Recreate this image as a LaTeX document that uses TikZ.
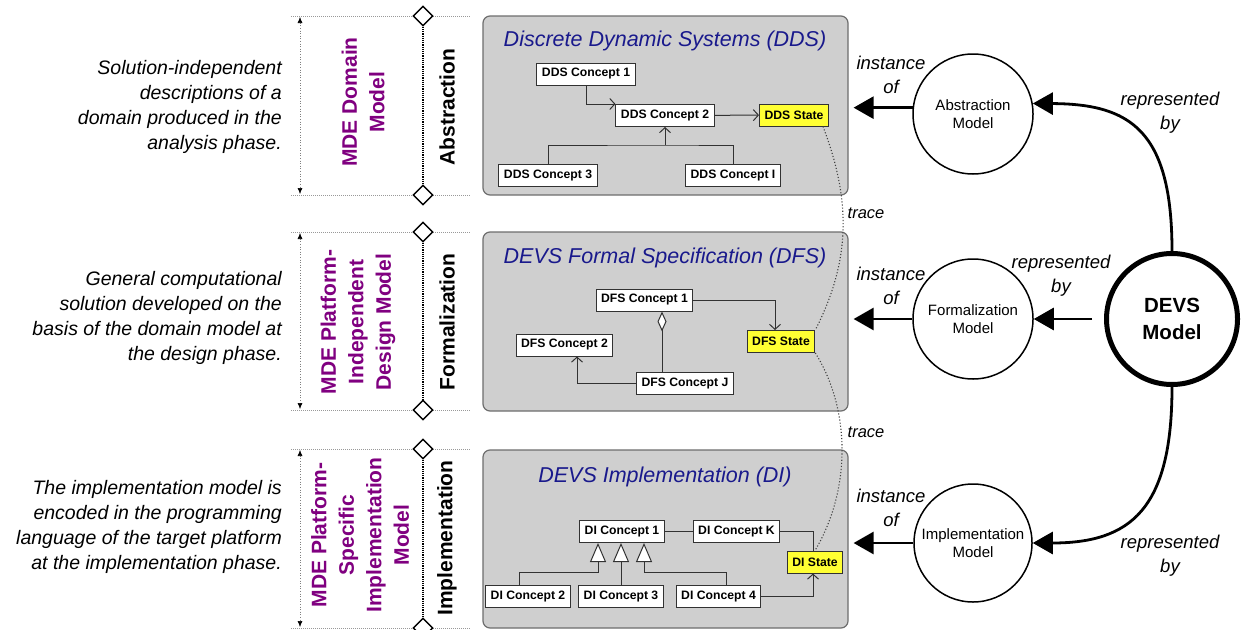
\documentclass[tikz,border=0pt]{standalone}
\usepackage{fontspec}
\setmainfont{Liberation Sans}
\usetikzlibrary{arrows.meta,shapes.geometric,calc}
\definecolor{panelgray}{RGB}{207,207,207}
\definecolor{panelborder}{RGB}{110,110,110}
\definecolor{stateyellow}{RGB}{255,255,51}
\definecolor{mdepurple}{RGB}{128,0,128}
\definecolor{titleblue}{RGB}{25,25,140}
\definecolor{connc}{RGB}{50,50,50}
\newcommand\myfs[2]{\fontsize{#1}{#2}\selectfont}
\begin{document}
\begin{tikzpicture}[x=1pt,y=-1pt,
  panel/.style={draw=panelborder, fill=panelgray, rounded corners=7pt, line width=1.2pt, minimum width=365pt, inner sep=0pt},
  concept/.style={draw=connc, fill=white, line width=1pt, font=\bfseries\myfs{12.2}{14}, inner xsep=5pt, inner ysep=0pt, minimum height=22pt},
  statebox/.style={concept, fill=stateyellow},
  conn/.style={draw=connc, line width=1pt},
  barb/.style={-{Straight Barb[length=5pt,width=11pt]}},
  inh/.style={-{Triangle[fill=white,length=19pt,width=16pt]}},
  agg/.style={-{Diamond[fill=white,length=20pt,width=9pt]}},
  paneltitle/.style={font=\itshape\myfs{21.5}{25}, text=titleblue},
  lefttext/.style={anchor=east, align=right, font=\itshape\myfs{19.5}{25}, inner sep=0pt},
  mdelabel/.style={rotate=90, align=center, font=\bfseries\myfs{21}{27.5}, text=mdepurple},
  phaselabel/.style={rotate=90, font=\bfseries\myfs{21}{25}},
  guide/.style={draw=gray!80, densely dotted, line width=1pt},
  levelline/.style={draw=black, densely dotted, line width=1.2pt},
  dimline/.style={draw=gray, dotted, line width=0.6pt, {Latex[length=6pt,width=5pt,color=black]}-{Latex[length=6pt,width=5pt,color=black]}},
  marker/.style={diamond, draw=black, fill=white, line width=1.4pt, minimum width=20pt, minimum height=20pt, inner sep=0pt},
  modelcircle/.style={circle, draw=black, line width=1.5pt, minimum size=120pt, inner sep=0pt, align=center, font=\myfs{15}{18.5}},
  bigarr/.style={line width=2.8pt, -{Triangle[length=20pt,width=22pt]}},
  relabel/.style={font=\itshape\myfs{18.5}{24}, align=center},
  tracelabel/.style={font=\itshape\myfs{16.5}{20}},
  traceline/.style={draw=black!75, dotted, line width=1.1pt},
]
\fill[white] (0,0) rectangle (1241,629);
\useasboundingbox (0,0) rectangle (1241,629);

% ---------- left descriptions ----------
\node[lefttext] (desc1) at (282,106.5) {Solution-independent\\descriptions of a\\domain produced in the\\analysis phase.};
\node[lefttext] (desc2) at (282,317.5) {General computational\\solution developed on the\\basis of the domain model at\\the design phase.};
\node[lefttext] (desc3) at (282,526.5) {The implementation model is\\encoded in the programming\\language of the target platform\\at the implementation phase.};

% ---------- guide lines ----------
\foreach \yy in {16,195,232,410,449,628} {\draw[guide] (291,\yy) -- (470,\yy);}
\draw[dimline] (300,17) -- (300,194);
\draw[dimline] (300,233) -- (300,409);
\draw[dimline] (300,450) -- (300,627);

\node[marker] (mk1a) at (423,16) {};
\node[marker] (mk1b) at (423,195) {};
\node[marker] (mk2a) at (423,232) {};
\node[marker] (mk2b) at (423,410) {};
\node[marker] (mk3a) at (423,449) {};
\node[marker] (mk3b) at (423,628) {};
\draw[levelline] (mk1a) -- (mk1b);
\draw[levelline] (mk2a) -- (mk2b);
\draw[levelline] (mk3a) -- (mk3b);

\node[mdelabel] (mde1) at (363,102) {MDE Domain\\Model};
\node[mdelabel] (mde2) at (358,322) {MDE Platform-\\Independent\\Design Model};
\node[mdelabel] (mde3) at (360,535) {MDE Platform-\\Specific\\Implementation\\Model};
\node[phaselabel] (ph1) at (447,107) {Abstraction};
\node[phaselabel] (ph2) at (447,322) {Formalization};
\node[phaselabel] (ph3) at (447,538) {Implementation};

% ---------- panels ----------
\node[panel, minimum height=179pt] (p1) at (665.5,105.5) {};
\node[panel, minimum height=179pt] (p2) at (665.5,321.5) {};
\node[panel, minimum height=178pt] (p3) at (665.5,539) {};
\node[paneltitle] (t1) at (665,41) {Discrete Dynamic Systems (DDS)};
\node[paneltitle] (t2) at (665,258) {DEVS Formal Specification (DFS)};
\node[paneltitle] (t3) at (665,477) {DEVS Implementation (DI)};

% panel 1
\node[concept] (dds1) at (586,74) {DDS Concept 1};
\node[concept] (dds2) at (665,115.5) {DDS Concept 2};
\node[statebox] (ddsS) at (794,115) {DDS State};
\node[concept] (dds3) at (548,175.5) {DDS Concept 3};
\node[concept] (ddsI) at (733,175.5) {DDS Concept I};
\coordinate (j1) at (dds2.south |- 0,145);
\draw[conn, barb] (dds1.south) |- (dds2.north west);
\draw[conn, barb] (dds2) -- (ddsS);
\draw[conn] (dds3.north) |- (j1) -| (ddsI.north);
\draw[conn, barb] (j1) -- (dds2.south);

% panel 2
\node[concept] (dfs1) at (644.5,300) {DFS Concept 1};
\node[statebox] (dfsS) at (781,341.5) {DFS State};
\node[concept] (dfs2) at (564.5,345) {DFS Concept 2};
\node[concept] (dfsJ) at (685,383.5) {DFS Concept J};
\draw[conn, barb] (dfs1.east) -| ([xshift=-6pt]dfsS.north);
\draw[conn, agg] (dfsJ.north -| 662,0) -- (dfs1.south -| 662,0);
\draw[conn, barb] (dfsJ.west) -| ([xshift=12.5pt]dfs2.south);

% panel 3
\node[concept] (di1) at (622,531.5) {DI Concept 1};
\node[concept] (diK) at (736.5,531.5) {DI Concept K};
\node[statebox] (diS) at (815,562) {DI State};
\node[concept] (di2) at (528,596) {DI Concept 2};
\node[concept] (di3) at (621,596) {DI Concept 3};
\node[concept] (di4) at (718.5,596) {DI Concept 4};
\coordinate (ta) at (598,572);
\coordinate (tb) at (644,572);
\draw[conn] (di1) -- (diK);
\draw[conn] (diK.east) -| ([xshift=-2pt]diS.north);
\draw[conn, barb] (di4.east) -| ([xshift=-2pt]diS.south);
\draw[conn, inh] ([xshift=-9pt]di2.north) |- (ta) -- (ta |- di1.south);
\draw[conn, inh] (di3.north) -- (di3.north |- di1.south);
\draw[conn, inh] ([xshift=8pt]di4.north) |- (tb) -- (tb |- di1.south);

% trace
\draw[traceline] ([xshift=-6pt]ddsS.south east) .. controls (851,200) and (851,260) .. (dfsS.north east);
\draw[traceline] (dfsS.south east) .. controls (851,410) and (851,490) .. (diS.north);
\node[tracelabel] (tr1) at (866,213) {trace};
\node[tracelabel] (tr2) at (866,432) {trace};

% ---------- models ----------
\node[modelcircle] (abs) at (973,114) {Abstraction\\Model};
\node[modelcircle] (form) at (973,319) {Formalization\\Model};
\node[modelcircle, minimum size=118pt] (impl) at (973,543) {Implementation\\Model};
\node[modelcircle, line width=5pt, minimum size=131pt, font=\bfseries\myfs{20.5}{27}] (devs) at (1172,319) {DEVS\\Model};

\draw[bigarr] (abs.174) -- ([xshift=5pt]abs.174 -| p1.east);
\draw[bigarr] (form.west) -- ([xshift=5pt]form.west -| p2.east);
\draw[bigarr] (impl.west) -- ([xshift=5pt]impl.west -| p3.east);
\node[relabel] (io1) at (891,75) {instance\\of};
\node[relabel] (io2) at (891,286) {instance\\of};
\node[relabel] (io3) at (891,508) {instance\\of};

\draw[bigarr] (devs.north) .. controls (1172,130) and (1130,104) .. (abs.10);
\draw[bigarr, shorten <=12pt] (devs.west) -- (form.east);
\draw[bigarr] (devs.south) .. controls (1172,510) and (1130,543) .. (impl.east);
\node[relabel] (rb1) at (1170,113) {represented\\by};
\node[relabel] (rb2) at (1061,276) {represented\\by};
\node[relabel] (rb3) at (1170,556) {represented\\by};
\end{tikzpicture}
\end{document}
